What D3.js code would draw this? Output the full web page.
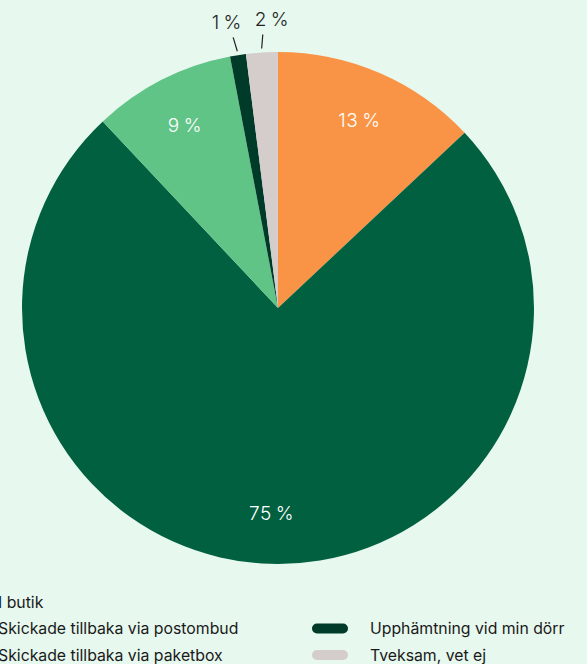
<!DOCTYPE html>
<html>
<head>
<meta charset="utf-8">
<script src="https://cdn.jsdelivr.net/npm/d3@7"></script>
<style>
  html, body { margin: 0; padding: 0; background: #e7f8ee; overflow: hidden; }
  svg { display: block; font-family: "Inter", "Lato", sans-serif; }
</style>
</head>
<body>
<svg id="chart"></svg>
<script>
const categories = [
  "I butik",
  "Skickade tillbaka via postombud",
  "Skickade tillbaka via paketbox",
  "Upphämtning vid min dörr",
  "Tveksam, vet ej"
];
const values = [13, 75, 9, 1, 2];
const colors = ["#f99446", "#006040", "#61c487", "#003a28", "#d4cdcb"];
const outside = [false, false, false, true, true];

const width = 587, height = 664;
const cx = 278, cy = 308, radius = 256;

const svg = d3.select("#chart").attr("width", width).attr("height", height);

const data = categories.map((c, i) => ({ name: c, value: values[i], color: colors[i], out: outside[i] }));

const pie = d3.pie().value(d => d.value).sort(null);
const arc = d3.arc().innerRadius(0).outerRadius(radius);
const labelArc = d3.arc().innerRadius(205).outerRadius(205);

const g = svg.append("g").attr("transform", `translate(${cx},${cy})`);
const arcs = pie(data);

g.selectAll("path.slice")
  .data(arcs)
  .join("path")
  .attr("class", "slice")
  .attr("d", arc)
  .attr("fill", d => d.data.color);

const pct = d => d.data.value + "\u2009%";

// inside labels
g.selectAll("text.inlabel")
  .data(arcs.filter(d => !d.data.out))
  .join("text")
  .attr("class", "inlabel")
  .attr("transform", d => `translate(${labelArc.centroid(d)})`)
  .attr("text-anchor", "middle")
  .attr("dy", "0.35em")
  .attr("fill", "#ffffff")
  .style("font-size", "19px")
  .style("font-weight", 300)
  .style("letter-spacing", "0.5px")
  .text(pct);

// outside labels with small leader lines
const outArcs = arcs.filter(d => d.data.out);
const lineStart = d3.arc().innerRadius(radius + 4).outerRadius(radius + 4);
const lineEnd = d3.arc().innerRadius(radius + 18).outerRadius(radius + 18);
const textArc = d3.arc().innerRadius(radius + 33).outerRadius(radius + 33);
const spread = (d, i) => (i === 0 ? -6 : 12);

g.selectAll("line.leader")
  .data(outArcs)
  .join("line")
  .attr("class", "leader")
  .attr("x1", d => lineStart.centroid(d)[0])
  .attr("y1", d => lineStart.centroid(d)[1])
  .attr("x2", (d, i) => lineEnd.centroid(d)[0] + (i === 0 ? -2 : 2))
  .attr("y2", d => lineEnd.centroid(d)[1])
  .attr("stroke", "#222")
  .attr("stroke-width", 1.2);

g.selectAll("text.outlabel")
  .data(outArcs)
  .join("text")
  .attr("class", "outlabel")
  .attr("transform", (d, i) => {
    const p = textArc.centroid(d);
    return `translate(${p[0] + spread(d, i)},${p[1]})`;
  })
  .attr("text-anchor", "middle")
  .attr("dy", "0.35em")
  .attr("fill", "#222")
  .style("font-size", "19px")
  .style("font-weight", 300)
  .style("letter-spacing", "0.5px")
  .text(pct);

// legend: column-major, 3 rows
const legend = svg.append("g").attr("transform", "translate(0,602)");
const colX = [-2, 370];
const rowY = 26.5;
const items = legend.selectAll("g.item")
  .data(data)
  .join("g")
  .attr("class", "item")
  .attr("transform", (d, i) => {
    const col = i < 3 ? 0 : 1;
    const row = i < 3 ? i : i - 2;
    return `translate(${colX[col]},${row * rowY})`;
  });

items.append("rect")
  .attr("x", -58)
  .attr("y", -5)
  .attr("width", 36)
  .attr("height", 10)
  .attr("rx", 5)
  .attr("fill", d => d.color);

items.append("text")
  .attr("x", 0)
  .attr("dy", "0.35em")
  .attr("fill", "#1a1a1a")
  .style("font-size", "15.8px")
  .text(d => d.name);
</script>
</body>
</html>
